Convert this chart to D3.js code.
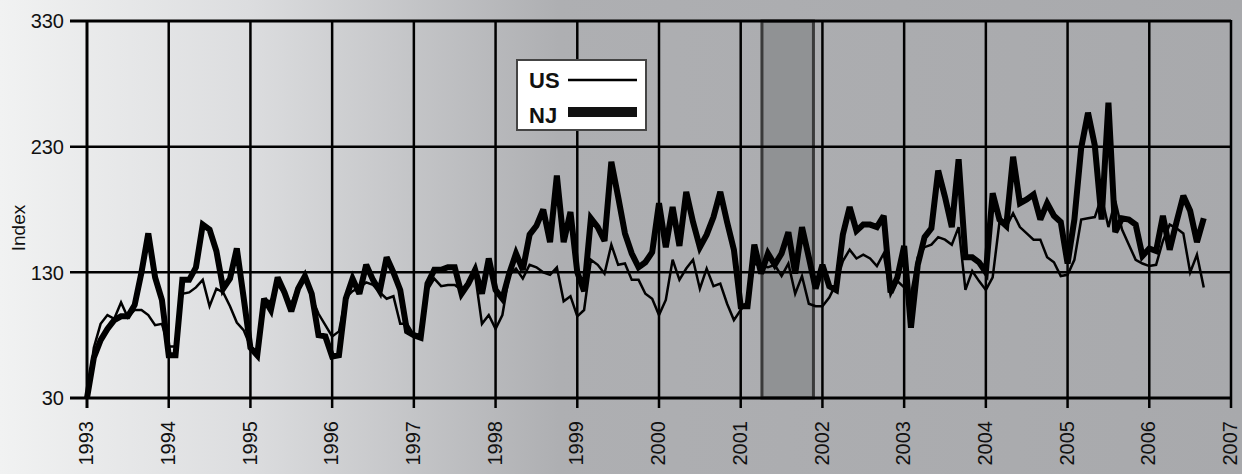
<!DOCTYPE html>
<html>
<head>
<meta charset="utf-8">
<script src="https://cdn.jsdelivr.net/npm/d3@7"></script>
<style>
  html, body { margin: 0; padding: 0; }
  svg { display: block; font-family: "Liberation Sans", Arial, sans-serif; }
</style>
</head>
<body>
<script>
(function () {
  // monthly index values, Jan 1993 .. Sep 2006
  const startYear = 1993
  const njIndex = [
    30, 62, 76, 85, 92, 95, 95, 104, 130, 161, 126, 108,      // 1993
    64, 64, 124, 124, 134, 168, 164, 147, 117, 125, 149, 110, // 1994
    70, 64, 109, 100, 126, 114, 99, 117, 127, 113, 80, 79,    // 1995
    63, 64, 109, 125, 113, 136, 124, 115, 142, 130, 116, 83,  // 1996
    80, 78, 121, 132, 132, 134, 134, 113, 121, 132, 113, 141, // 1997
    116, 109, 129, 145, 132, 160, 167, 180, 154, 207, 154, 178, // 1998
    130, 115, 173, 166, 155, 218, 190, 161, 145, 134, 138, 146, // 1999
    185, 150, 182, 151, 194, 170, 150, 160, 174, 194, 170, 148, // 2000
    103, 103, 152, 129, 145, 136, 145, 162, 129, 166, 142, 117, // 2001
    136, 119, 116, 160, 182, 163, 168, 168, 166, 175, 114, 126, // 2002
    151, 86, 136, 158, 165, 211, 190, 166, 220, 142, 142, 138,  // 2003
    130, 193, 172, 167, 222, 185, 188, 192, 172, 185, 175, 170, // 2004
    137, 172, 229, 257, 231, 172, 265, 162, 173, 172, 168, 143, // 2005
    149, 147, 175, 148, 170, 191, 179, 154, 173                 // 2006
  ]
  const usIndex = [
    30, 70, 89, 96, 93, 106, 94, 100, 100, 96, 88, 89,        // 1993
    71, 71, 113, 114, 118, 124, 103, 117, 114, 103, 90, 84,   // 1994
    71, 66, 108, 107, 120, 113, 105, 118, 126, 110, 97, 88,   // 1995
    79, 83, 110, 115, 118, 122, 120, 114, 109, 111, 89, 89,   // 1996
    80, 81, 116, 125, 119, 120, 120, 116, 122, 128, 89, 96,   // 1997
    85, 96, 128, 133, 125, 136, 134, 130, 128, 134, 107, 111, // 1998
    95, 100, 140, 136, 129, 152, 136, 137, 124, 124, 113, 109, // 1999
    96, 108, 140, 124, 133, 140, 117, 133, 119, 121, 105, 92, // 2000
    100, 107, 137, 135, 134, 136, 127, 137, 113, 127, 105, 103, // 2001
    103, 110, 121, 139, 148, 141, 144, 141, 135, 145, 112, 123, // 2002
    118, 112, 142, 150, 152, 158, 156, 152, 166, 116, 131, 123, // 2003
    116, 126, 170, 166, 177, 166, 161, 156, 156, 142, 138, 127, // 2004
    128, 140, 172, 173, 174, 190, 166, 187, 164, 152, 140, 137, // 2005
    135, 136, 155, 168, 165, 161, 130, 144, 118                 // 2006
  ]
  const xYears = d3.range(1993, 2008)
  const yTicks = [30, 130, 230, 330]
  const recession = [2001.26, 2001.89]
  const seriesNames = ['US', 'NJ']

  const W = 1242, H = 474
  const svg = d3.select('body').append('svg')
                .attr('width', W)
                .attr('height', H)

  const grad = svg.append('defs').append('linearGradient')
                  .attr('id', 'bg')
                  .attr('x1', '0').attr('x2', '1').attr('y1', '0').attr('y2', '0')
  grad.selectAll('stop')
      .data([[0, '#f1f2f2'], [0.2, '#dcdddf'], [0.45, '#aeafb2'], [1, '#a8a9ac']])
      .enter().append('stop')
      .attr('offset', d => d[0])
      .attr('stop-color', d => d[1])

  svg.append('rect').attr('width', W).attr('height', H).attr('fill', 'url(#bg)')

  const x = d3.scaleLinear().domain([1993, 2007]).range([87, 1231])
  const y = d3.scaleLinear().domain([30, 330]).range([398, 21])

  // recession band
  svg.append('rect')
     .attr('x', x(recession[0]))
     .attr('y', y(330))
     .attr('width', x(recession[1]) - x(recession[0]))
     .attr('height', y(30) - y(330))
     .attr('fill', '#909294')
     .attr('stroke', '#3a3a3a')
     .attr('stroke-width', 3)

  // horizontal grid
  svg.selectAll('.hgrid')
     .data(yTicks)
     .enter().append('line')
     .attr('x1', 70).attr('x2', x(2007))
     .attr('y1', d => y(d)).attr('y2', d => y(d))
     .attr('stroke', '#000')
     .attr('stroke-width', d => (d === 30 || d === 330) ? 3 : 2.5)

  // vertical grid
  svg.selectAll('.vgrid')
     .data(xYears)
     .enter().append('line')
     .attr('x1', d => x(d)).attr('x2', d => x(d))
     .attr('y1', y(330) - 1).attr('y2', y(30) + 10)
     .attr('stroke', '#000')
     .attr('stroke-width', d => d === 1993 ? 3 : 2.5)

  svg.selectAll('.ylab')
     .data(yTicks)
     .enter().append('text')
     .attr('x', 64)
     .attr('y', d => y(d))
     .attr('dy', '0.36em')
     .attr('text-anchor', 'end')
     .attr('font-size', 20)
     .attr('fill', '#111')
     .text(d => d)

  svg.selectAll('.xlab')
     .data(xYears)
     .enter().append('text')
     .attr('transform', d => `translate(${x(d) - 1},421) rotate(-90)`)
     .attr('dy', '0.36em')
     .attr('text-anchor', 'end')
     .attr('font-size', 20)
     .attr('fill', '#111')
     .text(d => d)

  svg.append('text')
     .attr('transform', 'translate(18,228) rotate(-90)')
     .attr('dy', '0.36em')
     .attr('text-anchor', 'middle')
     .attr('font-size', 19)
     .attr('fill', '#111')
     .text('Index')

  const line = d3.line()
                 .x((d, i) => x(startYear + i / 12))
                 .y(d => y(d))

  svg.append('path')
     .datum(usIndex)
     .attr('d', line)
     .attr('fill', 'none')
     .attr('stroke', '#000')
     .attr('stroke-width', 2.5)
     .attr('stroke-linejoin', 'miter')

  svg.append('path')
     .datum(njIndex)
     .attr('d', line)
     .attr('fill', 'none')
     .attr('stroke', '#000')
     .attr('stroke-width', 6)
     .attr('stroke-linejoin', 'miter')
     .attr('stroke-miterlimit', 3)

  // legend
  const lg = svg.append('g').attr('transform', 'translate(517,60)')
  lg.append('rect')
    .attr('width', 129).attr('height', 70)
    .attr('fill', '#fff')
    .attr('stroke', '#444')
    .attr('stroke-width', 2)
  lg.selectAll('text')
    .data(seriesNames)
    .enter().append('text')
    .attr('x', 12)
    .attr('y', (d, i) => 28 + i * 35)
    .attr('font-size', 22)
    .attr('font-weight', 'bold')
    .attr('fill', '#111')
    .text(d => d)
  lg.append('line')
    .attr('x1', 51).attr('x2', 120)
    .attr('y1', 20).attr('y2', 20)
    .attr('stroke', '#000').attr('stroke-width', 2.5)
  lg.append('rect')
    .attr('x', 51).attr('y', 47)
    .attr('width', 69).attr('height', 10)
    .attr('fill', '#111')
})()
</script>
</body>
</html>
